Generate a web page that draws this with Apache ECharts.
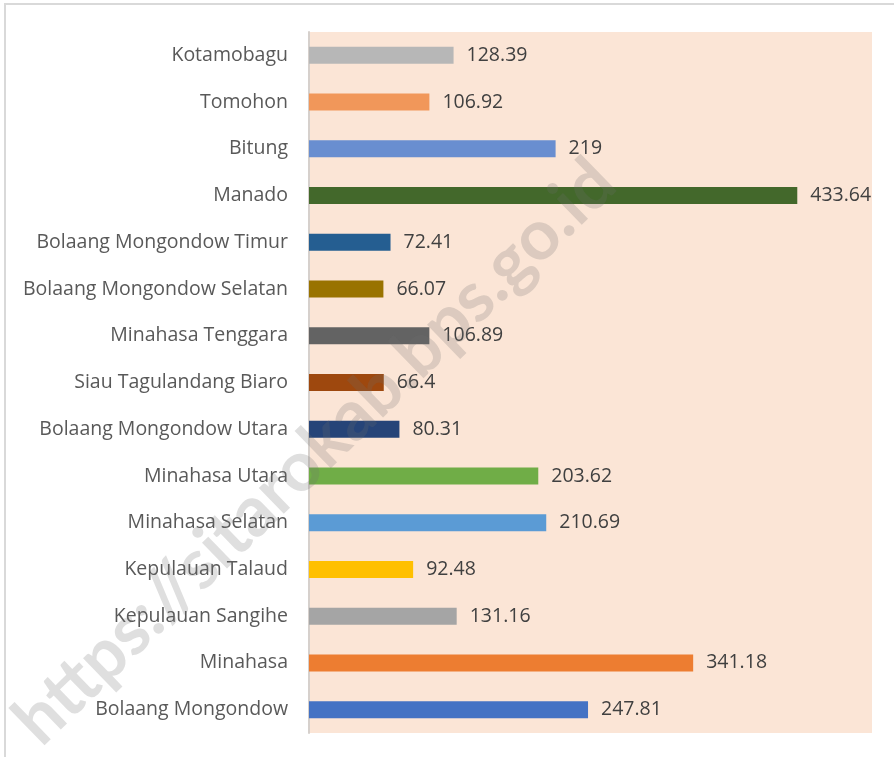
<!DOCTYPE html>
<html>
<head>
<meta charset="utf-8">
<script src="https://cdn.jsdelivr.net/npm/echarts@6/dist/echarts.min.js"></script>
<style>
    html, body { margin: 0; padding: 0; background: #fff; }
    #main { width: 894px; height: 757px; }
</style>
</head>
<body>
<div id="main"></div>
<script type="text/javascript">
// kabupaten/kota, from bottom to top
var categories = ['Bolaang Mongondow', 'Minahasa', 'Kepulauan Sangihe', 'Kepulauan Talaud',
    'Minahasa Selatan', 'Minahasa Utara', 'Bolaang Mongondow Utara', 'Siau Tagulandang Biaro',
    'Minahasa Tenggara', 'Bolaang Mongondow Selatan', 'Bolaang Mongondow Timur', 'Manado',
    'Bitung', 'Tomohon', 'Kotamobagu'];
var values = [247.81, 341.18, 131.16, 92.48, 210.69, 203.62, 80.31, 66.4,
    106.89, 66.07, 72.41, 433.64, 219, 106.92, 128.39];
var barColors = ['#4472C4', '#ED7D31', '#A5A5A5', '#FFC000', '#5B9BD5', '#70AD47', '#264478', '#9E480E',
    '#636363', '#997300', '#255E91', '#43682B', '#698ED0', '#F1975A', '#B7B7B7'];

var font = '"Open Sans", Lato, sans-serif';

var myChart = echarts.init(document.getElementById('main'));
var option = {
    animation: false,
    grid: {
        left: 309, right: 22, top: 32, bottom: 24,
        show: true, backgroundColor: '#FBE5D6', borderWidth: 0
    },
    xAxis: {
        type: 'value', min: 0, max: 500,
        show: false
    },
    yAxis: {
        type: 'category',
        data: categories,
        axisLine: { show: true, lineStyle: { color: '#d6d0cc', width: 2 } },
        axisTick: { show: false },
        axisLabel: { color: '#595959', fontSize: 19.5, fontFamily: font, margin: 21, padding: [3, 0, 0, 0] }
    },
    series: [{
        type: 'bar',
        barWidth: 17,
        data: values.map(function (v, i) {
            return { value: v, itemStyle: { color: barColors[i] } };
        }),
        label: {
            show: true, position: 'right', distance: 13, padding: [3, 0, 0, 0],
            color: '#404040', fontSize: 19.5, fontFamily: font
        }
    }],
    graphic: [
        {
            type: 'rect', silent: true, z: -1,
            shape: { x: 5, y: 4, width: 920, height: 800 },
            style: { fill: 'none', stroke: '#d9d9d9', lineWidth: 2 }
        },
        {
            type: 'text', silent: true, z: 100,
            x: 315, y: 452, rotation: Math.PI / 4 * 0.98,
            style: {
                text: 'https://sitarokab.bps.go.id',
                fontSize: 70, fontWeight: 'bold', fontFamily: 'Lato, sans-serif',
                fill: 'rgba(110,110,110,0.22)',
                align: 'center', verticalAlign: 'middle'
            }
        }
    ]
};
myChart.setOption(option);
</script>
</body>
</html>
